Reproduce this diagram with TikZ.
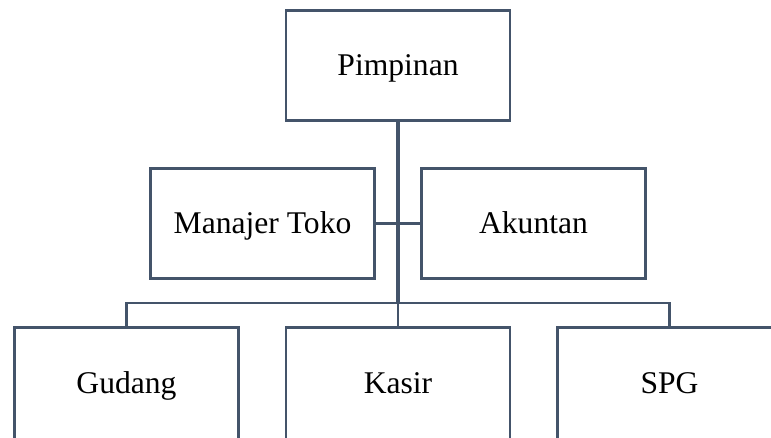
\documentclass[tikz,border=0pt]{standalone}
\usepackage{fontspec}
\setmainfont{Liberation Serif}
\definecolor{slate}{HTML}{44546A}
\tikzset{
  orgbox/.style={draw=slate, line width=2.4pt, minimum width=224pt, minimum height=110pt, inner sep=0pt, text height=23pt, text depth=3pt, font=\fontsize{31.6}{36}\selectfont},
  lowbox/.style={orgbox, minimum height=120pt, text height=22pt, text depth=10pt},
  link/.style={draw=slate, line width=2.4pt},
  trunk/.style={draw=slate, line width=3.6pt}
}
\begin{document}
\begin{tikzpicture}[x=1pt,y=-1pt]
\useasboundingbox (0,0) rectangle (771,438);
\clip (0,0) rectangle (771,438);
\node[orgbox] (pim) at (398,65.5) {Pimpinan};
\node[orgbox] (man) at (262.5,223.5) {Manajer Toko};
\node[orgbox] (aku) at (533.5,223.5) {Akuntan};
\node[lowbox] (gud) at (126.5,387.5) {Gudang};
\node[lowbox] (kas) at (398,387.5) {Kasir};
\node[lowbox] (spg) at (669.5,387.5) {SPG};
\coordinate (bar) at (398,303);
\draw[trunk] (pim.south) -- (bar);
\draw[link] (bar) -- (kas.north);
\draw[link] (man.east) -- (aku.west);
\draw[link] (gud.north) |- (bar) -| (spg.north);
\end{tikzpicture}
\end{document}
